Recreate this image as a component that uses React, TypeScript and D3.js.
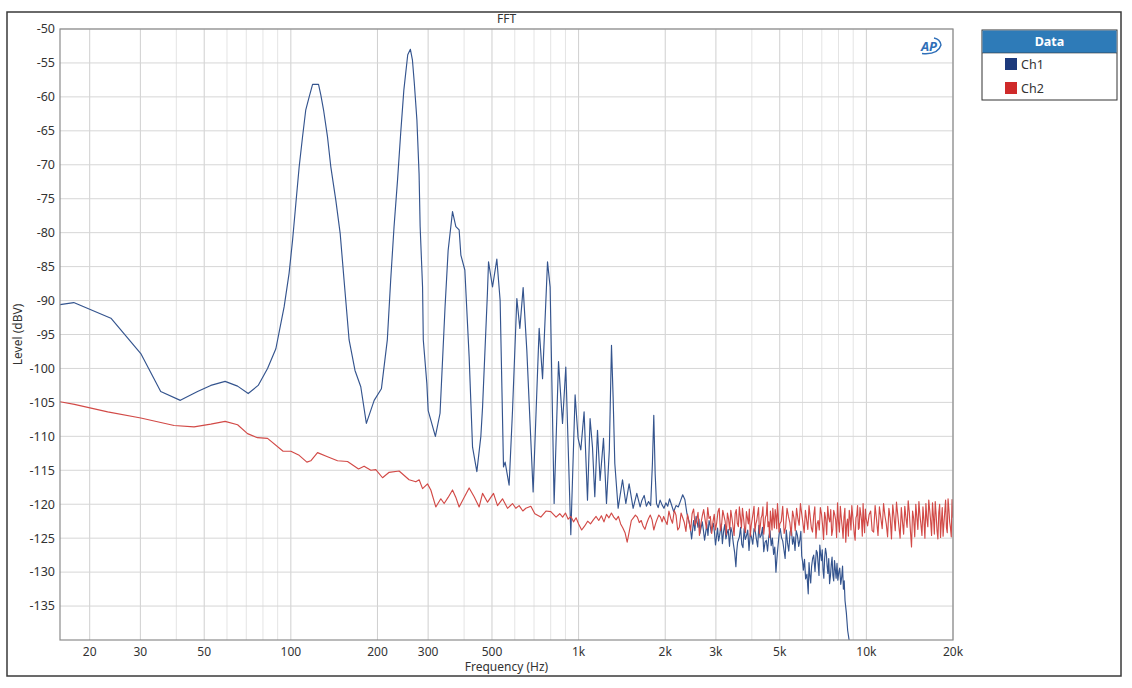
import React from 'react';
import * as d3 from 'd3';

const W = 1132;
const H = 688;
const PL = 60, PT = 29, PR = 953, PB = 640;

const chartTitle = 'FFT';
const xAxisTitle = 'Frequency (Hz)';
const yAxisTitle = 'Level (dBV)';
const xDomain = [15.77, 20000];
const yDomain = [-140, -50];
const xTickValues = [20, 30, 50, 100, 200, 300, 500, 1000, 2000, 3000, 5000, 10000, 20000];
const xTickLabels = ['20', '30', '50', '100', '200', '300', '500', '1k', '2k', '3k', '5k', '10k', '20k'];
const yTickValues = [-50, -55, -60, -65, -70, -75, -80, -85, -90, -95, -100, -105, -110, -115, -120, -125, -130, -135];
const seriesNames = ['Ch1', 'Ch2'];

// Ch1: low band and main hum peaks
const ch1LowBand: [number, number][] = [
  [15.77, -90.6], [17.6, -90.3], [23.7, -92.6], [30.1, -97.8], [35.3, -103.4], [41.3, -104.7],
  [47.4, -103.4], [52.7, -102.5], [59.1, -101.9], [65.3, -102.6], [71.1, -103.7], [77.0, -102.5],
  [83.0, -100.0], [88.7, -97.1], [94.8, -90.9], [98.6, -86.0], [101.4, -81.1], [104.1, -75.7],
  [106.9, -70.3], [109.8, -65.9], [112.7, -61.9], [115.8, -60.0],
  [119, -58.15], [124.8, -58.15], [127.1, -59.7], [129.9, -61.9], [134.1, -65.9], [137.7, -70.3],
  [143.3, -75.2], [148.4, -80.1], [153.1, -87.0], [159.4, -95.8],
  [167.1, -100.3], [175, -102.7], [183, -108.1], [194.8, -104.7], [206.4, -103.0], [216.4, -95.8],
  [222.3, -87.0], [228.4, -79.1], [234.8, -72.3], [240.8, -65.4], [247, -59.0], [254.8, -53.8],
  [260.3, -53.0], [264.6, -54.6], [268.6, -58.0], [274.2, -63.4], [279.0, -71.3], [281.4, -79.1],
  [286.9, -88.0], [288.6, -95.8], [296.9, -102.2], [300.1, -106.2], [317.9, -110.0], [330, -106.6],
  [343.5, -90.9], [352.1, -82.6], [364.6, -76.9], [374.5, -79.1], [384.5, -79.6], [389.8, -83.3],
  [402.4, -85.5],
];

// Ch1: harmonic comb up to ~1.6 kHz
const ch1Harmonics: [number, number][] = [
  [416.5, -98.3], [428, -111.6], [443, -115.2], [457.4, -110.0], [463.7, -105.7], [482, -89.0],
  [486.4, -84.3], [502.2, -88.0], [519.8, -83.9], [533.7, -90.0], [548.3, -114.5], [555.4, -113.8],
  [573.5, -117.2], [589.3, -106.2], [610.1, -89.7], [624.9, -94.1], [641.6, -88.1], [660.7, -97.3],
  [695, -118.2], [729.3, -94.1], [749.4, -101.5], [779.8, -84.3], [796.2, -88.0], [822.1, -119.9],
  [851.5, -99.0], [879.2, -108.1], [902.6, -99.8], [939.5, -124.5], [972.4, -103.9], [996.1, -110.3],
  [1017.7, -112.0], [1044.9, -106.4], [1073.7, -119.4], [1096.2, -107.4], [1117.5, -111.6],
  [1138.3, -118.9], [1163.2, -109.1], [1187.6, -116.5], [1220.3, -110.3], [1250, -119.9],
  [1278.6, -112.0], [1301, -96.6], [1318, -104.2], [1336, -114.0], [1372, -120.6], [1421, -116.4],
  [1459, -119.9], [1498, -117.0], [1547, -120.6], [1593, -118.4], [1636, -120.4],
];

// Ch1: noise floor and roll-off
const ch1Noise: [number, number][] = [
  [1660, -119.4], [1690, -118.7], [1720, -120.3], [1750, -119.6], [1780, -120.2], [1805, -114.0],
  [1825, -106.9], [1845, -115.5], [1865, -119.9], [1890, -120.5], [1920, -119.4], [1950, -120.1],
  [1980, -120.6], [2010, -119.8], [2040, -120.3], [2070, -119.2], [2100, -120.0], [2140, -121.1],
  [2180, -120.2], [2220, -120.4], [2260, -119.5], [2300, -118.6], [2340, -119.3], [2380, -121.4],
  [2420, -122.6], [2470, -125.1], [2510, -122.4], [2560, -121.8], [2600, -123.4], [2640, -124.3],
  [2690, -122.6], [2740, -125.3], [2790, -123.0], [2840, -122.4], [2890, -124.2], [2940, -122.8],
  [2990, -126.0], [3040, -123.5], [3090, -124.6], [3130, -122.9], [3190, -124.0], [3250, -125.1],
  [3310, -123.7], [3380, -123.4], [3450, -125.8], [3520, -129.2], [3570, -125.6], [3620, -124.8],
  [3690, -125.9], [3760, -123.6], [3830, -124.7], [3910, -126.8], [3990, -124.9], [4070, -123.6],
  [4150, -125.2], [4230, -123.1], [4310, -124.6], [4400, -127.0], [4490, -125.3], [4580, -124.8],
  [4670, -126.1], [4760, -127.4], [4850, -130.0], [4930, -126.2], [5020, -123.6], [5120, -125.4],
  [5220, -128.0], [5320, -125.7], [5430, -124.1], [5540, -125.9], [5650, -126.8], [5760, -124.6],
  [5880, -125.1], [5960, -127.6], [6040, -129.7], [6150, -131.0], [6280, -133.2], [6360, -130.4],
  [6450, -129.2], [6560, -127.5], [6700, -126.8], [6800, -128.9], [6890, -126.0], [6980, -128.3],
  [7070, -129.7], [7160, -128.0], [7260, -127.3], [7350, -130.2], [7450, -131.7], [7550, -128.9],
  [7650, -130.5], [7750, -128.3], [7850, -130.9], [7960, -131.2], [8080, -129.4], [8210, -130.7],
  [8320, -132.5], [8430, -134.2], [8520, -136.0], [8610, -138.6], [8730, -140.3], [8850, -143.0],
  [9000, -146.0],
];

// Ch1: additional noise-floor bins read between the ones above
const ch1NoiseExtra: [number, number][] = [
  [2445, -123.5], [2535, -123.9], [2620, -122.2], [2715, -123.9], [2815, -124.6], [2865, -123.1],
  [2965, -124.1], [3065, -125.4], [3160, -125.8], [3220, -123.0], [3280, -124.3], [3345, -126.2],
  [3415, -124.2], [3485, -127.1], [3545, -126.9], [3655, -123.4], [3725, -126.4], [3795, -125.2],
  [3870, -123.8], [3950, -124.3], [4030, -125.9], [4110, -124.0], [4190, -126.3], [4270, -124.9],
  [4355, -123.4], [4445, -125.6], [4535, -126.9], [4625, -123.9], [4715, -125.0], [4805, -126.3],
  [4890, -127.9], [4975, -124.4], [5070, -124.9], [5170, -126.7], [5270, -123.8], [5375, -126.9],
  [5485, -123.5], [5595, -124.8], [5705, -123.9], [5820, -126.2], [5920, -124.0], [6000, -128.4],
  [6095, -128.1], [6215, -130.3], [6320, -128.6], [6405, -131.6], [6505, -128.0], [6630, -129.9],
  [6750, -127.1], [6845, -130.5], [6935, -127.4], [7025, -126.7], [7115, -130.9], [7210, -126.5],
  [7305, -129.1], [7400, -128.0], [7500, -130.6], [7600, -127.8], [7700, -131.3], [7800, -129.6],
  [7905, -128.7], [8020, -130.0], [8145, -131.8], [8265, -129.1], [8375, -131.3],
];

// Ch2: low band
const ch2LowBand: [number, number][] = [
  [15.77, -104.9], [17.7, -105.3], [23.1, -106.4], [30.1, -107.3], [39.3, -108.4], [46.1, -108.6],
  [52.7, -108.2], [59.1, -107.8], [65.3, -108.3], [70.7, -109.6], [76.6, -110.2], [83.0, -110.3],
  [94.0, -112.2], [100, -112.2], [106.9, -112.8], [113.7, -113.8], [117.3, -113.6], [123.8, -112.4],
  [134.1, -113.0], [145.3, -113.6], [157.4, -113.7], [171.9, -114.8], [179.7, -114.4], [189.7, -115.0],
  [197.4, -114.9], [208.3, -116.1], [219.6, -115.3], [237.8, -115.1], [257.6, -116.4], [271.9, -116.7],
  [279.2, -116.4], [286.9, -117.7], [298.5, -117.0], [306.5, -117.9], [319, -120.4], [332, -119.2],
  [341, -119.9], [352, -119.0], [364.6, -117.9], [374.5, -119.0], [384.5, -120.4], [398, -119.2],
  [416.5, -117.6], [433.5, -118.9], [451.2, -120.4], [463.7, -118.4], [482.6, -119.7], [506.2, -118.4],
  [522.6, -120.2], [544, -119.2], [566.2, -120.6], [589.3, -119.9], [605, -120.6], [621.4, -120.2],
  [640, -121.0], [655.5, -120.6], [682.3, -120.3], [704.5, -121.4], [739, -121.9], [770, -121.0],
  [800.6, -121.1], [835, -121.9], [860, -121.4],
];

// Ch2: noise floor
const ch2Noise: [number, number][] = [
  [880, -121.9], [900, -121.3], [920, -122.2], [940, -121.8], [960, -122.6], [980, -122.0], [1000, -122.9],
  [1025, -123.8], [1050, -123.2], [1075, -122.5], [1100, -122.9], [1125, -122.3], [1150, -121.8],
  [1175, -122.4], [1200, -121.7], [1225, -122.6], [1250, -121.5], [1275, -122.0], [1300, -121.3],
  [1325, -121.9], [1350, -122.3], [1375, -121.8], [1400, -122.9], [1425, -123.5], [1450, -124.2],
  [1475, -125.6], [1500, -124.0], [1525, -122.4], [1550, -122.0], [1575, -121.6], [1600, -121.9],
  [1625, -122.7], [1650, -122.4], [1675, -123.2], [1700, -123.7], [1725, -122.8], [1750, -122.1],
  [1775, -121.6], [1800, -122.3], [1825, -123.8], [1850, -122.9], [1875, -122.2], [1900, -121.6],
  [1925, -121.9], [1950, -122.6], [1975, -121.8], [2000, -122.4],
  [2060, -121.0], [2120, -122.8], [2180, -121.6], [2240, -123.4], [2300, -122.0], [2360, -124.0],
  [2420, -122.6], [2480, -121.4], [2540, -123.1], [2600, -121.2], [2660, -122.9], [2720, -120.8],
  [2780, -123.6], [2840, -122.1], [2900, -124.3], [2960, -121.5], [3020, -122.7], [3080, -120.6],
  [3140, -123.0], [3200, -121.7], [3260, -124.5], [3320, -122.2], [3380, -120.9], [3440, -123.3],
  [3500, -121.4], [3560, -122.8], [3620, -120.4], [3680, -123.5], [3740, -121.9], [3800, -124.2],
  [3860, -122.0], [3920, -120.7], [3980, -123.1], [4040, -121.3], [4100, -124.0], [4160, -122.4],
  [4220, -120.5], [4280, -123.2], [4340, -121.6], [4400, -124.4], [4460, -121.9], [4520, -119.7],
  [4580, -122.6], [4640, -121.0], [4700, -123.8], [4760, -122.1], [4820, -120.8], [4880, -123.6],
  [4940, -121.5], [5000, -122.9],
  [5120, -120.3], [5240, -123.4], [5360, -121.8], [5480, -124.6], [5600, -122.0], [5720, -120.6],
  [5840, -123.1], [5960, -121.4], [6080, -124.2], [6200, -122.3], [6320, -120.2], [6440, -123.5],
  [6560, -121.7], [6680, -125.0], [6800, -122.4], [6920, -120.5], [7040, -123.0], [7160, -121.2],
  [7280, -124.5], [7400, -122.0], [7520, -120.8], [7640, -123.7], [7760, -121.5], [7880, -124.9],
  [8000, -122.6], [8120, -120.3], [8240, -123.3], [8360, -121.9], [8480, -125.6], [8600, -122.2],
  [8720, -120.9], [8840, -123.8], [8960, -121.6], [9080, -124.4], [9200, -122.0], [9320, -120.2],
  [9440, -123.5], [9560, -121.4], [9680, -124.7], [9800, -122.5], [9920, -120.7],
  [10100, -123.2], [10350, -121.0], [10600, -124.1], [10850, -122.3], [11100, -120.4], [11350, -123.6],
  [11600, -121.7], [11850, -124.8], [12100, -122.0], [12350, -120.1], [12600, -123.9], [12850, -121.5],
  [13100, -125.0], [13350, -122.6], [13600, -120.3], [13850, -123.4], [14100, -121.2], [14350, -126.3],
  [14600, -122.1], [14850, -120.0], [15100, -123.7], [15350, -121.6], [15600, -124.6], [15850, -122.4],
  [16100, -119.9], [16350, -123.3], [16600, -120.9], [16850, -124.6], [17100, -121.8], [17350, -119.6],
  [17600, -123.9], [17850, -121.2], [18100, -124.9], [18350, -120.5], [18600, -122.8], [18850, -119.4],
  [19100, -124.2], [19350, -120.7], [19600, -123.5], [19850, -119.3], [20000, -122.0],
];

// Ch2: additional noise-floor bins read between the ones above
const ch2NoiseExtra: [number, number][] = [
  [2030, -123.0], [2090, -122.1], [2150, -120.9], [2210, -123.8], [2270, -121.3], [2330, -122.7],
  [2390, -121.5], [2450, -123.9], [2510, -120.7], [2570, -122.4], [2630, -124.6], [2690, -121.7],
  [2750, -122.2], [2810, -120.5], [2870, -121.8], [2930, -122.6], [2990, -123.8], [3050, -121.1],
  [3110, -123.9], [3170, -120.9], [3230, -122.5], [3290, -121.3], [3350, -123.8], [3410, -122.0],
  [3470, -124.6], [3530, -120.8], [3590, -123.3], [3650, -121.9], [3710, -120.6], [3770, -123.4],
  [3830, -121.1], [3890, -122.9], [3950, -124.7], [4010, -122.2], [4070, -120.3], [4130, -122.9],
  [4190, -121.4], [4250, -124.3], [4310, -122.0], [4370, -120.4], [4430, -123.1], [4490, -121.6],
  [4550, -123.3], [4610, -124.9], [4670, -122.3], [4730, -120.6], [4790, -123.5], [4850, -121.7],
  [4910, -119.9], [4970, -124.1],
  [5060, -122.5], [5180, -124.3], [5300, -120.6], [5420, -122.7], [5540, -121.0], [5660, -123.9],
  [5780, -122.1], [5900, -119.9], [6020, -122.8], [6140, -120.9], [6260, -123.7], [6380, -121.9],
  [6500, -124.1], [6620, -120.4], [6740, -122.9], [6860, -123.8], [6980, -121.4], [7100, -125.2],
  [7220, -122.1], [7340, -120.3], [7460, -122.6], [7580, -124.6], [7700, -120.9], [7820, -122.3],
  [7940, -119.8], [8060, -124.1], [8180, -122.0], [8300, -125.0], [8420, -120.6], [8540, -123.0],
  [8660, -124.7], [8780, -121.9], [8900, -120.2], [9020, -122.9], [9140, -125.3], [9260, -121.6],
  [9380, -123.7], [9500, -120.5], [9620, -122.4], [9740, -119.9], [9860, -124.2], [9980, -122.1],
  [10225, -121.5], [10475, -123.9], [10725, -120.2], [10975, -124.6], [11225, -122.0], [11475, -119.9],
  [11725, -122.9], [11975, -120.6], [12225, -125.1], [12475, -121.8], [12725, -119.7], [12975, -123.3],
  [13225, -120.5], [13475, -124.4], [13725, -122.0], [13975, -119.5], [14225, -123.9], [14475, -121.0],
  [14725, -124.8], [14975, -121.9], [15225, -119.6], [15475, -123.0], [15725, -120.4], [15975, -125.0],
  [16225, -122.1], [16475, -119.4], [16725, -122.5], [16975, -119.8], [17225, -124.4], [17475, -121.5],
  [17725, -125.1], [17975, -120.0], [18225, -122.5], [18475, -124.7], [18725, -121.1], [18975, -123.4],
  [19225, -119.2], [19475, -122.6], [19725, -124.8],
];

const byFreq = (a: [number, number], b: [number, number]) => a[0] - b[0];
const ch1Data = [...ch1LowBand, ...ch1Harmonics, ...ch1Noise, ...ch1NoiseExtra].sort(byFreq);
const ch2Data = [...ch2LowBand, ...ch2Noise, ...ch2NoiseExtra].sort(byFreq);

const ch1Color = '#34548e';
const ch2Color = '#d24a47';
const ch1Swatch = '#1d3a7c';
const ch2Swatch = '#cf2a2a';
const FONT = "'Segoe UI', 'Noto Sans', 'Open Sans', sans-serif";

export default function App() {
  const x = d3.scaleLog().domain(xDomain).range([PL, PR]);
  const y = d3.scaleLinear().domain(yDomain).range([PB, PT]);
  const line = d3
    .line<[number, number]>()
    .x((d) => x(d[0]))
    .y((d) => y(d[1]));

  const minorTicks: number[] = [];
  [10, 100, 1000, 10000].forEach((dec) => {
    for (let m = 1; m <= 9; m++) {
      const v = dec * m;
      if (v > xDomain[0] && v < xDomain[1] && !xTickValues.includes(v)) minorTicks.push(v);
    }
  });

  return (
    <svg
      width={W}
      height={H}
      style={{ position: 'absolute', left: 0, top: 0, background: '#fff', fontFamily: FONT }}
    >
      <rect x={0} y={0} width={W} height={H} fill="#fff" />
      <rect x={7} y={12} width={1114} height={664} fill="none" stroke="#3a3a3a" strokeWidth={1.5} />

      <defs>
        <clipPath id="plotClip">
          <rect x={PL} y={PT} width={PR - PL} height={PB - PT} />
        </clipPath>
      </defs>

      {/* grid */}
      {minorTicks.map((v) => (
        <line key={'mn' + v} x1={x(v)} x2={x(v)} y1={PT} y2={PB} stroke="#e4e4e4" strokeWidth={1} />
      ))}
      {xTickValues.map((v) => (
        <line key={'mj' + v} x1={x(v)} x2={x(v)} y1={PT} y2={PB} stroke="#cfcfcf" strokeWidth={1} />
      ))}
      {yTickValues.map((v) => (
        <line key={'hy' + v} x1={PL} x2={PR} y1={y(v)} y2={y(v)} stroke="#d6d6d6" strokeWidth={1} />
      ))}

      {/* data */}
      <g clipPath="url(#plotClip)">
        <path d={line(ch1Data) || ''} fill="none" stroke={ch1Color} strokeWidth={1.15} strokeLinejoin="round" />
        <path d={line(ch2Data) || ''} fill="none" stroke={ch2Color} strokeWidth={1.15} strokeLinejoin="round" />
      </g>

      {/* plot frame */}
      <rect x={PL} y={PT} width={PR - PL} height={PB - PT} fill="none" stroke="#8c8c8c" strokeWidth={1.2} />

      {/* y ticks */}
      {yTickValues.map((v) => (
        <text key={'yt' + v} x={55} y={y(v)} dy="0.35em" textAnchor="end" fontSize={12.5} fill="#333">
          {v}
        </text>
      ))}
      {/* x ticks */}
      {xTickValues.map((v, i) => (
        <text key={'xt' + v} x={x(v)} y={656} textAnchor="middle" fontSize={12} fill="#333">
          {xTickLabels[i]}
        </text>
      ))}

      <text x={(PL + PR) / 2} y={23} textAnchor="middle" fontSize={12} fill="#333">
        {chartTitle}
      </text>
      <text x={(PL + PR) / 2} y={671} textAnchor="middle" fontSize={12} fill="#333">
        {xAxisTitle}
      </text>
      <text
        transform={`translate(22, ${(PT + PB) / 2}) rotate(-90)`}
        textAnchor="middle"
        fontSize={12}
        fill="#333"
      >
        {yAxisTitle}
      </text>

      {/* AP logo */}
      <g>
        <text x={929} y={51} textAnchor="middle" fontSize={13} fontWeight="bold" fontStyle="italic" fill="#2f6fb8">
          AP
        </text>
        <path d="M 922 53.5 Q 938 55 941 45 Q 940 39 934 38" fill="none" stroke="#2f6fb8" strokeWidth={1.4} />
      </g>

      {/* legend */}
      <g>
        <rect x={982} y={30} width={135} height={70} fill="#fff" stroke="#333" strokeWidth={1} />
        <rect x={982.5} y={30.5} width={134} height={22.5} fill="#2e7bb8" />
        <line x1={982} x2={1117} y1={53} y2={53} stroke="#333" strokeWidth={0.6} />
        <text x={1049.5} y={46} textAnchor="middle" fontSize={12.5} fontWeight="bold" fill="#fff">
          Data
        </text>
        <rect x={1005} y={58} width={12} height={12} fill={ch1Swatch} />
        <text x={1021} y={68.5} fontSize={12.5} fill="#333">
          {seriesNames[0]}
        </text>
        <rect x={1005} y={82} width={12} height={12} fill={ch2Swatch} />
        <text x={1021} y={92.5} fontSize={12.5} fill="#333">
          {seriesNames[1]}
        </text>
      </g>
    </svg>
  );
}
